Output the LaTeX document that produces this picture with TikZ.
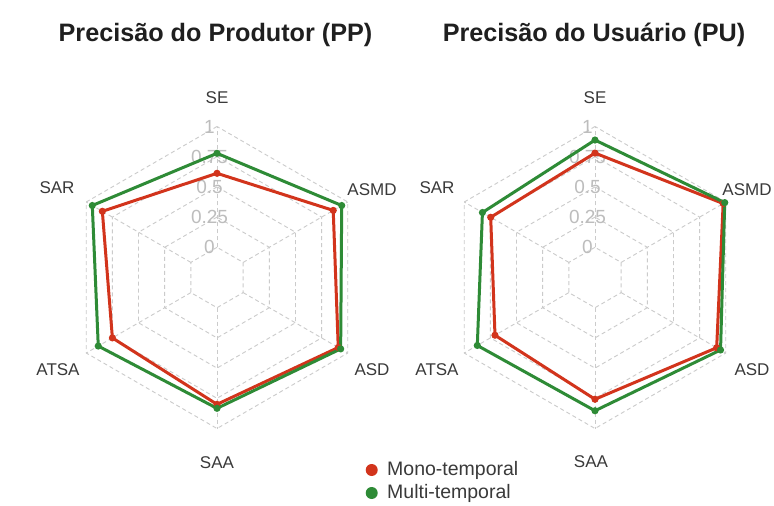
\documentclass[tikz,border=0pt]{standalone}
\usepackage{fontspec}
\setmainfont{Liberation Sans}
\usetikzlibrary{calc}
\definecolor{monored}{HTML}{D2341C}
\definecolor{multigreen}{HTML}{2E8B36}
\definecolor{gridgray}{HTML}{CBCBCB}
\definecolor{ticklab}{HTML}{BDBDBD}
\definecolor{txtgray}{HTML}{3A3A3A}
\tikzset{
  gridline/.style={draw=gridgray, line width=0.9pt, dash pattern=on 4pt off 3pt},
  redline/.style={draw=monored, line width=3pt, line join=round},
  greenline/.style={draw=multigreen, line width=3pt, line join=round},
  axislabel/.style={font=\fontsize{17}{17}\selectfont, text=txtgray, inner sep=0pt},
  ticklabel/.style={font=\fontsize{19}{19}\selectfont, text=ticklab, inner sep=0pt},
  titletext/.style={font=\fontsize{25.2}{25.2}\selectfont\bfseries, text=black!88, inner sep=0pt, anchor=base},
  legendtext/.style={font=\fontsize{19.5}{19.5}\selectfont, text=txtgray, inner sep=0pt, anchor=west},
  legenddot/.style={circle, inner sep=0pt, minimum size=12pt},
}
\newcommand{\radargrid}[1]{%
  \foreach \k in {1,...,5} {
    \draw[gridline] ($(#1)+(90:{\k*30.2})$)
      \foreach \a in {150,210,270,330,30} { -- ($(#1)+(\a:{\k*30.2})$) } -- cycle;
  }
  \foreach \a in {90,150,210,270,330,30} {
    \draw[gridline] ($(#1)+(\a:30.2)$) -- ($(#1)+(\a:151)$);
  }
  \foreach \t [count=\k] in {0,0.25,0.5,0.75,1} {
    \node[ticklabel] (#1tick\k) at ($(#1)+(-7.5,{\k*30.2})$) {\t};
  }
}
\newcommand{\radarpoly}[4]{% center, prefix, style, values
  \foreach \v [count=\i] in {#4} {
    \coordinate (#2\i) at ($(#1)+({90+60*(\i-1)}:{151*(0.2+0.8*\v)})$);
  }
  \draw[#3] (#21) -- (#22) -- (#23) -- (#24) -- (#25) -- (#26) -- cycle;
}
\begin{document}
\begin{tikzpicture}[x=1pt,y=1pt]
\useasboundingbox (0,0) rectangle (774,-506);
\fill[white] (0,0) rectangle (774,-506);

% ---------- left chart ----------
\coordinate (L) at (217,-277.5);
\radargrid{L}
\radarpoly{L}{Lr}{redline}{0.6125,0.846,0.75,0.80,0.909,0.861}
\radarpoly{L}{Lg}{greenline}{0.778,0.942,0.885,0.833,0.932,0.942}
\foreach \i in {1,...,6} { \fill[monored] (Lr\i) circle (3.6); }
\foreach \i in {1,...,6} { \fill[multigreen] (Lg\i) circle (3.6); }
\node[titletext] (t1) at (215.5,-41) {Precisão do Produtor (PP)};
\node[axislabel] (lSE)   at (217,-98)  {SE};
\node[axislabel] (lSAR)  at (57,-188)  {SAR};
\node[axislabel] (lATSA) at (58,-370)  {ATSA};
\node[axislabel] (lSAA)  at (217,-463) {SAA};
\node[axislabel] (lASD)  at (372,-370) {ASD};
\node[axislabel] (lASMD) at (372,-190) {ASMD};

% ---------- right chart ----------
\coordinate (R) at (595,-277.5);
\radargrid{R}
\radarpoly{R}{Rr}{redline}{0.78,0.747,0.706,0.758,0.913,0.975}
\radarpoly{R}{Rg}{greenline}{0.888,0.826,0.875,0.853,0.95,0.99}
\foreach \i in {1,...,6} { \fill[monored] (Rr\i) circle (3.6); }
\foreach \i in {1,...,6} { \fill[multigreen] (Rg\i) circle (3.6); }
\node[titletext] (t2) at (594,-41) {Precisão do Usuário (PU)};
\node[axislabel] (rSE)   at (595,-98)  {SE};
\node[axislabel] (rSAR)  at (437,-188) {SAR};
\node[axislabel] (rATSA) at (437,-370) {ATSA};
\node[axislabel] (rSAA)  at (591,-462) {SAA};
\node[axislabel] (rASD)  at (752,-370) {ASD};
\node[axislabel] (rASMD) at (747,-190) {ASMD};

% ---------- legend ----------
\node[legenddot, fill=monored]    (d1) at (371.7,-470) {};
\node[legenddot, fill=multigreen] (d2) at (371.7,-493) {};
\node[legendtext] (m1) at (387,-470) {Mono-temporal};
\node[legendtext] (m2) at (387,-493) {Multi-temporal};
\end{tikzpicture}
\end{document}
